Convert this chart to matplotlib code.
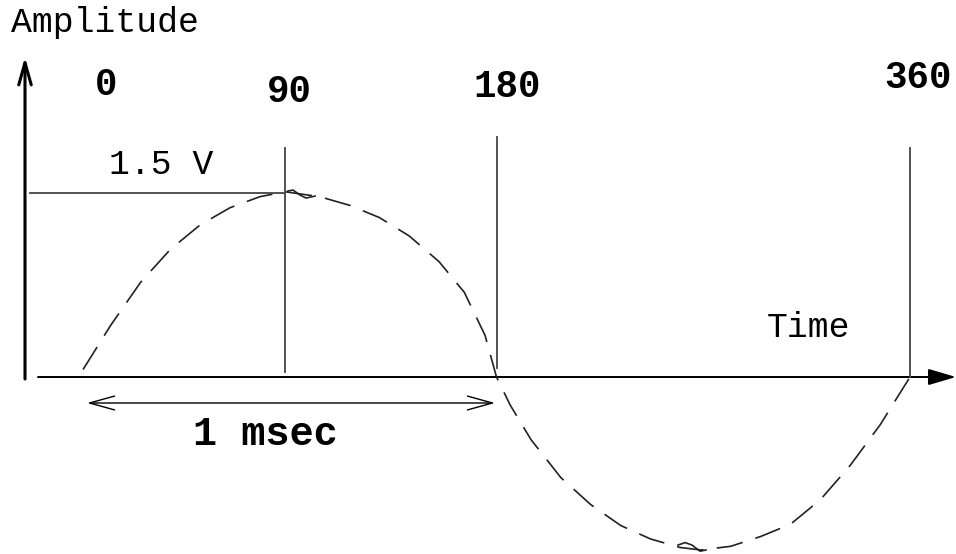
"""
Diagrama de una onda senoidal: amplitud vs tiempo (fase en grados).
Estilo dibujo xfig: curva a trazos, marcas verticales y flechas.
"""

import matplotlib
matplotlib.use('Agg')
import matplotlib.pyplot as plt
from matplotlib.patches import FancyArrowPatch, ArrowStyle

# ===============================
# Datos
# ===============================
# fase (grados) y amplitud (V) de la curva a trazos
fase = [0, 12, 25, 38, 51, 64, 77, 88, 103, 116, 129, 142, 155, 166, 175, 180,
        186, 195, 208, 221, 234, 247, 260, 269, 282, 295, 308, 321, 334, 347, 360]
amplitud = [0.06, 0.42, 0.77, 1.04, 1.24, 1.38, 1.47, 1.51, 1.47, 1.40, 1.30, 1.15,
            0.94, 0.69, 0.34, 0.0, -0.23, -0.51, -0.82, -1.04, -1.21, -1.32, -1.39,
            -1.41, -1.38, -1.30, -1.20, -1.00, -0.72, -0.39, 0.0]

# pequeñas ondulaciones en el máximo y el mínimo
tilde_pico_fase = [89.2, 91.4, 94.5, 97.1, 101.0]
tilde_pico_amp = [1.516, 1.524, 1.483, 1.459, 1.475]
tilde_valle_fase = [259.0, 262.1, 265.1, 268.6, 271.2]
tilde_valle_amp = [-1.37, -1.35, -1.37, -1.42, -1.41]

# marcas verticales (fase, amplitud inferior, amplitud superior)
marcas_fase = [88, 180, 360]
marcas_bajo = [0.04, 0.07, 0.0]
marcas_alto = [1.87, 1.96, 1.87]

pico_v = 1.5
etiquetas_fase = ['0', '90', '180', '360']

# ===============================
# Figura
# ===============================
W, H = 956, 554
fig = plt.figure(figsize=(W / 100, H / 100), dpi=100)
ax = fig.add_axes([0, 0, 1, 1])
ax.set_axis_off()

# escala: 0 grados -> x=83 px, 360 -> x=910 px ; 0 V -> y=377 px, 1.5 V -> y=193 px
sx = (910 - 83) / 360
sy = (377 - 193) / 1.5
ax.set_xlim(-83 / sx, (W - 83) / sx)
ax.set_ylim(-(H - 377) / sy, 377 / sy)


def px(x, y):
    """pixel -> coordenadas de datos (solo para colocar flechas/ejes)"""
    return ((x - 83) / sx, (377 - y) / sy)


col = '#222222'

# curva a trazos
ax.plot(fase, amplitud, color=col, lw=1.2, linestyle=(0, (16, 8)))
ax.plot(tilde_pico_fase, tilde_pico_amp, color=col, lw=1.2)
ax.plot(tilde_valle_fase, tilde_valle_amp, color=col, lw=1.2)

# marcas verticales
for f, b, a in zip(marcas_fase, marcas_bajo, marcas_alto):
    ax.plot([f, f], [b, a], color='#444444', lw=1.3)

# línea horizontal del pico (1.5 V)
ax.plot([px(30, 0)[0], marcas_fase[0]], [pico_v, pico_v], color='#444444', lw=1.3)

# eje vertical con flecha abierta
ax.add_patch(FancyArrowPatch(px(25, 379), px(25, 57),
                             arrowstyle=ArrowStyle('->', head_length=16, head_width=4.5),
                             mutation_scale=1, shrinkA=0, shrinkB=0,
                             color='black', lw=2.2))

# eje horizontal con flecha rellena
ax.add_patch(FancyArrowPatch(px(38, 377), px(956, 377),
                             arrowstyle=ArrowStyle('-|>', head_length=17, head_width=5),
                             mutation_scale=1, shrinkA=0, shrinkB=0,
                             color='black', lw=1.4))

# flecha doble de 1 msec
ax.add_patch(FancyArrowPatch(px(87, 403), px(495, 403),
                             arrowstyle=ArrowStyle('<->', head_length=18, head_width=5),
                             mutation_scale=1, shrinkA=0, shrinkB=0,
                             color='black', lw=1.0))

# ===============================
# Textos
# ===============================
fuente = 'Liberation Mono'


def texto(x, y, s, size, bold=False):
    fig.text(x / W, 1 - y / H, s, ha='center', va='baseline', fontsize=size,
             family=fuente, fontweight='bold' if bold else 'normal', color='black')


texto(105, 32, 'Amplitude', 25)
for (x, y), s in zip([(106, 95), (289, 102), (507, 97), (918, 88)], etiquetas_fase):
    texto(x, y, s, 27, bold=True)
texto(161, 174, '1.5 V', 25)
texto(808, 337, 'Time', 25)
texto(265, 445, '1 msec', 29, bold=True)

fig.savefig('out.png', dpi=100)
